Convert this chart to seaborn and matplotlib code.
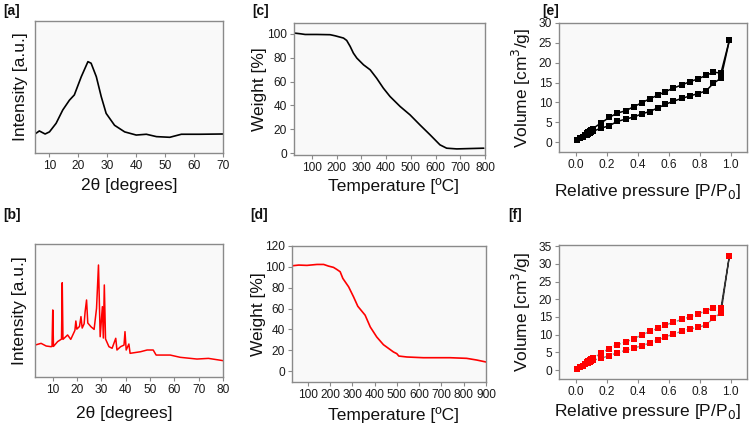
import numpy as np
import pandas as pd
import matplotlib
matplotlib.use("Agg")
import matplotlib.pyplot as plt
from matplotlib.ticker import FormatStrFormatter
import seaborn as sns

# [a] amorphous XRD (arbitrary units)
xrd_a_theta = [5, 6.5, 8.5, 10, 12.3, 14.6, 16.9, 18.6, 21, 23.3, 24.4, 26.2, 27.9,
               29.6, 32.5, 36, 40, 43.5, 47, 51.6, 55.6, 62, 70]
xrd_a_int = [14.4, 16.7, 14.4, 16, 22.5, 32.6, 40, 44, 57.8, 69.2, 68, 57.8, 42.7,
             30, 21, 16, 13.6, 14.2, 12.4, 11.9, 14.2, 14.2, 14.4]

# [b] crystalline XRD (arbitrary units)
xrd_b_theta = [2.7, 5.2, 7.3, 9.3, 9.7, 10.0, 10.3, 12.0, 13.6, 13.9, 14.2, 16.1, 17.4,
               19.1, 19.5, 19.9, 21.0, 21.6, 22.1, 22.9, 23.3, 23.9, 24.4, 25.7, 27.0,
               28.0, 28.8, 29.5, 30.4, 30.8, 31.2, 31.7, 33.1, 34.4, 35.9, 36.4, 37.9,
               39.3, 39.7, 40.2, 41.3, 41.8, 46.1, 48.8, 51.3, 52.5, 58.3, 62.4, 69.3,
               74, 80]
xrd_b_int = [24, 25.3, 23.3, 22.8, 23, 50.4, 23, 26.6, 28.5, 70.9, 28.3, 31.6, 28.3,
             35, 42.1, 36, 38, 45.4, 36.8, 40, 49, 57.9, 40.6, 37.8, 35.8,
             51.6, 84.2, 30.3, 52.9, 29.3, 69.2, 28.6, 22.8, 21.6, 29.1, 20.3, 22.8,
             24, 34.1, 20.3, 24.8, 17.8, 19.0, 20.3, 20.3, 16.5, 16.5, 14.8, 13.5,
             14, 12.3]

# [c] TGA, sample 1
tga_c_temp = [28, 53, 73, 120, 174, 194, 228, 241, 255, 268, 282, 309, 336, 362, 389,
              416, 457, 497, 537, 578, 618, 645, 686, 740, 795]
tga_c_weight = [100.6, 100, 99.4, 99.4, 99.2, 98.3, 96.4, 94.4, 89.4, 83.8, 79.6, 74,
                69.8, 62.8, 54.5, 47.5, 39.1, 32.1, 23.7, 15.4, 7, 4.2, 3.6, 3.9, 4.2]

# [d] TGA, sample 2
tga_d_temp = [30, 60, 97, 142, 172, 194, 216, 231, 246, 258, 284, 306, 325, 358, 381,
              410, 440, 485, 500, 509, 545, 619, 739, 813, 858, 900]
tga_d_weight = [101, 101.7, 101.4, 102.3, 102.3, 100.7, 99.5, 97.5, 95.3, 88.9, 80.8,
                71.2, 62.2, 53.6, 42.3, 32.7, 25.3, 18.3, 16.7, 14.4, 13.5, 12.8, 12.8,
                12.2, 10.6, 8.7]

# N2 isotherms: relative pressure of adsorption / desorption points
p_ads = [0.01, 0.03, 0.05, 0.06, 0.07, 0.08, 0.09, 0.10, 0.11, 0.163, 0.215, 0.268,
         0.323, 0.374, 0.426, 0.477, 0.529, 0.578, 0.63, 0.684, 0.735, 0.787, 0.841,
         0.888, 0.937, 0.991]
p_des = [0.991, 0.937, 0.888, 0.841, 0.787, 0.735, 0.684, 0.63, 0.578, 0.529, 0.477,
         0.426, 0.374, 0.323, 0.268, 0.215, 0.163, 0.11, 0.10, 0.09, 0.08, 0.07]

# [e]
vol_e_ads = [0.4, 1.0, 1.4, 1.7, 1.9, 2.1, 2.3, 2.5, 2.7, 3.5, 4.1, 5.2, 5.8, 6.3, 7.1,
             7.7, 8.6, 9.5, 10.3, 11.0, 11.6, 12.2, 12.9, 14.8, 16.1, 25.6]
vol_e_des = [25.6, 17.4, 17.6, 16.8, 15.9, 15.2, 14.4, 13.6, 12.7, 11.8, 10.9, 9.9,
             8.9, 7.9, 7.3, 6.2, 4.8, 3.4, 3.1, 2.8, 2.5, 2.2]

# [f]
vol_f_ads = [0.3, 0.9, 1.3, 1.6, 1.9, 2.1, 2.4, 2.6, 2.8, 3.3, 4.1, 4.9, 5.6, 6.2, 6.9,
             7.6, 8.5, 9.4, 10.1, 11.0, 11.6, 12.1, 12.7, 14.7, 16.1, 32.1]
vol_f_des = [32.1, 17.5, 17.6, 16.7, 15.9, 15.0, 14.3, 13.5, 12.7, 11.8, 10.9, 9.9,
             8.9, 7.9, 7.2, 6.1, 4.7, 3.4, 3.1, 2.8, 2.5, 2.2]

sns.set_theme(style="white")
plt.rcParams["font.family"] = ["Liberation Sans", "DejaVu Sans"]
plt.rcParams["axes.edgecolor"] = "#8a8a8a"
plt.rcParams["axes.linewidth"] = 1.0
plt.rcParams["xtick.color"] = "#8a8a8a"
plt.rcParams["ytick.color"] = "#8a8a8a"
plt.rcParams["xtick.labelcolor"] = "#1a1a1a"
plt.rcParams["ytick.labelcolor"] = "#1a1a1a"

W, H = 752, 424
fig = plt.figure(figsize=(W / 100, H / 100), dpi=100)

lab_kw = dict(fontsize=12.5, color="#111111")
pan_kw = dict(fontsize=10, fontweight="bold", color="#111111", va="top", ha="left")


def make_ax(box, xlab, ylab, xlab_top, ylab_right, xlab_cx=None):
    # box = (left, top, right, bottom) in pixels
    left, top, right, bottom = box
    ax = fig.add_axes([left / W, 1 - bottom / H, (right - left) / W, (bottom - top) / H])
    ax.set_facecolor("#f9f9f9")
    ax.tick_params(direction="out", length=3, width=0.8, labelsize=8.6, pad=2)
    ax.tick_params(axis="x", bottom=True)
    ax.tick_params(axis="y", left=True)
    ax.set_xlabel(xlab, **lab_kw)
    ax.set_ylabel(ylab, **lab_kw)
    if xlab_cx is None:
        xlab_cx = (left + right) / 2
    ax.xaxis.set_label_coords((xlab_cx - left) / (right - left),
                              (bottom - xlab_top) / (bottom - top))
    ax.yaxis.set_label_coords((ylab_right - left) / (right - left), 0.5)
    return ax


# [a]
ax = make_ax((35, 21, 223, 153), "2θ [degrees]", "Intensity [a.u.]", 178, 28, 124)
sns.lineplot(x=xrd_a_theta, y=xrd_a_int, sort=False, estimator=None, color="black",
             linewidth=1.2, ax=ax)
ax.set_xlim(5, 70)
ax.set_ylim(0, 100)
ax.set_xticks([10, 20, 30, 40, 50, 60, 70])
ax.set_yticks([])
ax.set_xlabel(ax.get_xlabel(), **lab_kw)

# [b]
ax = make_ax((35, 244, 223, 377), "2θ [degrees]", "Intensity [a.u.]", 406, 27, 124)
sns.lineplot(x=xrd_b_theta, y=xrd_b_int, sort=False, estimator=None, color="red",
             linewidth=1.1, ax=ax)
ax.set_xlim(2.7, 80)
ax.set_ylim(0, 100)
ax.set_xticks([10, 20, 30, 40, 50, 60, 70, 80])
ax.set_yticks([])

# [c]
ax = make_ax((294, 23, 485, 155), "Temperature [ºC]", "Weight [%]", 178, 267, 393)
sns.lineplot(x=tga_c_temp, y=tga_c_weight, sort=False, estimator=None, color="black",
             linewidth=1.2, ax=ax)
ax.set_xlim(28, 800)
ax.set_ylim(-1.5, 109)
ax.set_xticks([100, 200, 300, 400, 500, 600, 700, 800])
ax.set_yticks([0, 20, 40, 60, 80, 100])

# [d]
ax = make_ax((292, 246, 486, 382), "Temperature [ºC]", "Weight [%]", 407, 266, 393)
sns.lineplot(x=tga_d_temp, y=tga_d_weight, sort=False, estimator=None, color="red",
             linewidth=1.2, ax=ax)
ax.set_xlim(30, 900)
ax.set_ylim(-10.5, 120)
ax.set_xticks([100, 200, 300, 400, 500, 600, 700, 800, 900])
ax.set_yticks([0, 20, 40, 60, 80, 100, 120])

# [e]
ax = make_ax((559, 23, 747, 152), "Relative pressure [P/P$_0$]", "Volume [cm$^3$/g]",
             182, 533, 647)
for p, v in [(p_ads, vol_e_ads), (p_des, vol_e_des)]:
    sns.lineplot(x=p, y=v, sort=False, estimator=None, color="black", linewidth=1.1,
                 marker="s", markersize=4, markeredgewidth=0, ax=ax)
ax.set_xlim(-0.108, 1.105)
ax.set_ylim(-2.5, 30)
ax.set_xticks([0.0, 0.2, 0.4, 0.6, 0.8, 1.0])
ax.set_yticks([0, 5, 10, 15, 20, 25, 30])

# [f]
ax = make_ax((559, 245, 747, 379), "Relative pressure [P/P$_0$]", "Volume [cm$^3$/g]",
             402, 533, 647)
sns.lineplot(x=p_ads[:-1], y=vol_f_ads[:-1], sort=False, estimator=None, color="#888888",
             linewidth=1.0, linestyle=(0, (2, 1.5)), ax=ax)
sns.lineplot(x=p_des[1:], y=vol_f_des[1:], sort=False, estimator=None, color="#888888",
             linewidth=1.0, linestyle=(0, (2, 1.5)), ax=ax)
# steep closing segment near saturation pressure
sns.lineplot(x=[p_ads[-2], p_ads[-1], p_des[1]], y=[vol_f_ads[-2], vol_f_ads[-1], vol_f_des[1]],
             sort=False, estimator=None, color="#333333", linewidth=1.0, ax=ax)
ax.scatter(p_ads, vol_f_ads, marker="s", s=20, color="red", linewidths=0, zorder=3)
ax.scatter(p_des, vol_f_des, marker="s", s=20, color="red", linewidths=0, zorder=3)
ax.set_xlim(-0.108, 1.105)
ax.set_ylim(-2.5, 35.3)
ax.set_xticks([0.0, 0.2, 0.4, 0.6, 0.8, 1.0])
ax.set_yticks([0, 5, 10, 15, 20, 25, 30, 35])

for ax in fig.axes[:4]:
    ax.xaxis.set_major_formatter(FormatStrFormatter("%d"))
for ax in fig.axes[4:]:
    ax.xaxis.set_major_formatter(FormatStrFormatter("%.1f"))

fig.text(3 / W, 1 - 4 / H, "[a]", **pan_kw)
fig.text(3 / W, 1 - 208 / H, "[b]", **pan_kw)
fig.text(252 / W, 1 - 4 / H, "[c]", **pan_kw)
fig.text(250 / W, 1 - 208 / H, "[d]", **pan_kw)
fig.text(542 / W, 1 - 4 / H, "[e]", **pan_kw)
fig.text(508 / W, 1 - 208 / H, "[f]", **pan_kw)

fig.savefig("out.png", dpi=100, facecolor="white")
